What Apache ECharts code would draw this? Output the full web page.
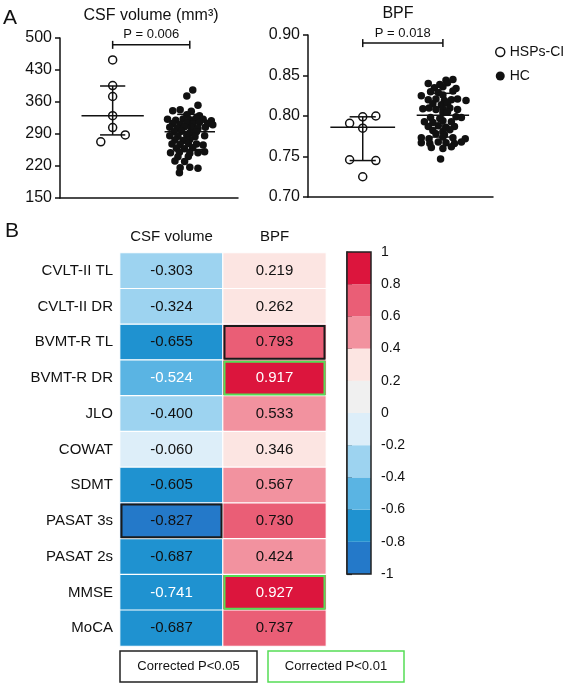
<!DOCTYPE html>
<html>
<head>
<meta charset="utf-8">
<script src="https://cdn.jsdelivr.net/npm/echarts@6/dist/echarts.min.js"></script>
<style>
html, body { margin: 0; padding: 0; background: #fff; }
#main { width: 567px; height: 688px; }
</style>
</head>
<body>
<div id="main"></div>
<script>
// ---------- panel A : group scatter ----------
var groupNames = ['HSPs-CI', 'HC'];
var groupPos = [0.71, 1.75];

var csfHsp = [452, 396, 372, 330, 304, 273, 288];
var csfHspJitter = [0, 0, 0, 0, 0, -0.16, 0.17];
var csfHc = [386, 373, 353, 341, 343, 340, 332, 330, 322, 320, 323, 321, 324, 322, 319,
	313, 311, 314, 312, 315, 313, 310, 305, 303, 306, 304, 302, 305, 295, 296, 293, 295,
	286, 285, 287, 284, 286, 277, 276, 278, 268, 267, 269, 268, 266, 259, 258, 260,
	249, 250, 248, 249, 251, 240, 241, 231, 230, 216, 217, 215, 205];
var csfHcJitter = [0.04, -0.04, 0.11, -0.23, -0.13, 0.02, -0.04, 0.13, -0.3, -0.19, -0.09, 0, 0.08, 0.18, 0.29,
	-0.23, -0.13, -0.04, 0.04, 0.13, 0.24, 0.31, -0.27, -0.17, -0.07, 0.02, 0.11, 0.21, -0.21, -0.11, 0, 0.09,
	-0.27, -0.16, -0.04, 0.07, 0.2, -0.2, -0.09, 0, -0.24, -0.13, -0.02, 0.09, 0.18, -0.18, -0.07, 0.04,
	-0.26, -0.14, 0, 0.11, 0.2, -0.16, -0.02, -0.2, -0.07, -0.13, 0, 0.11, -0.14];

var bpfHsp = [0.799, 0.800, 0.791, 0.785, 0.746, 0.745, 0.725];
var bpfHspJitter = [0, 0.17, -0.17, 0, -0.17, 0.17, 0];
var bpfHc = [0.844, 0.845, 0.840, 0.839, 0.841, 0.835, 0.836, 0.834, 0.830, 0.829, 0.831, 0.825, 0.826,
	0.820, 0.821, 0.819, 0.820, 0.821, 0.819, 0.815, 0.814, 0.816, 0.809, 0.810, 0.808, 0.809, 0.810, 0.808,
	0.804, 0.805, 0.798, 0.797, 0.799, 0.798, 0.793, 0.792, 0.794, 0.793, 0.787, 0.788, 0.786, 0.787,
	0.782, 0.781, 0.783, 0.778, 0.777, 0.773, 0.772, 0.774, 0.773, 0.772, 0.767, 0.766, 0.768, 0.767, 0.766, 0.768,
	0.761, 0.760, 0.762, 0.747];
var bpfHcJitter = [0.04, 0.13, -0.19, -0.04, 0.06, -0.11, 0, 0.17, -0.16, -0.06, 0.13, -0.28, 0,
	-0.19, -0.09, 0.02, 0.11, 0.19, 0.3, -0.13, -0.02, 0.06, -0.26, -0.18, -0.09, 0, 0.09, 0.19,
	0, 0.06, -0.16, -0.04, 0.17, 0.24, -0.24, -0.13, 0, 0.11, -0.19, -0.06, 0.04, 0.15,
	-0.13, 0, 0.09, -0.09, 0.02, -0.28, -0.18, 0, 0.13, 0.29, -0.28, -0.17, -0.06, 0.04, 0.15, 0.24,
	-0.15, 0, 0.11, -0.03];

// mean and error bars per group [HSPs-CI, HC]
var csfMean = [330, 295];
var csfLow = [288, 256];
var csfHigh = [395, 333];
var bpfMean = [0.786, 0.801];
var bpfLow = [0.745, 0.774];
var bpfHigh = [0.799, 0.828];

var pLabels = ['P = 0.006', 'P = 0.018'];
var csfBracketY = 485;
var bpfBracketY = 0.890;

// axis ranges (tick labels)
var csfAxis = { min: 150, max: 500, step: 70 };
var bpfAxis = { min: 0.70, max: 0.90, step: 0.05 };

// ---------- panel B : correlation heatmap ----------
var tests = ['CVLT-II TL', 'CVLT-II DR', 'BVMT-R TL', 'BVMT-R DR', 'JLO', 'COWAT', 'SDMT',
	'PASAT 3s', 'PASAT 2s', 'MMSE', 'MoCA'];
var measures = ['CSF volume', 'BPF'];
var csfCorr = [-0.303, -0.324, -0.655, -0.524, -0.400, -0.060, -0.605, -0.827, -0.687, -0.741, -0.687];
var bpfCorr = [0.219, 0.262, 0.793, 0.917, 0.533, 0.346, 0.567, 0.730, 0.424, 0.927, 0.737];
var whiteLabelRows = ['BVMT-R DR', 'MMSE'];
// [column, row]
var sigP05 = [[1, 2], [0, 7]];
var sigP01 = [[1, 3], [1, 9]];

var scaleBounds = [-1, -0.8, -0.6, -0.4, -0.2, 0, 0.2, 0.4, 0.6, 0.8, 1];
var scaleColors = ['#2479c9', '#1f92d0', '#5ab4e3', '#9dd3f0', '#ddeef9',
	'#f0f0f0', '#fce5e2', '#f2929f', '#ea5e76', '#dc153d'];

var FONT = 'Liberation Sans, Arial, sans-serif';
var INK = '#111';

function scatterData(vals, jit, g, base) {
	return vals.map(function (v, i) { return [groupPos[g] + jit[i], v - base]; });
}

function statData(mean, lo, hi, base) {
	return [0, 1].map(function (g) {
		return [groupPos[g], mean[g] - base, lo[g] - base, hi[g] - base, g === 0 ? 0.42 : 0.34];
	});
}

function meanSdItem(params, api) {
	var x = api.value(0), m = api.value(1), lo = api.value(2), hi = api.value(3), hw = api.value(4);
	var cap = 0.17;
	function seg(x1, y1, x2, y2) {
		var a = api.coord([x1, y1]), b = api.coord([x2, y2]);
		return { type: 'line', shape: { x1: a[0], y1: a[1], x2: b[0], y2: b[1] },
			style: { stroke: INK, lineWidth: 1.5 } };
	}
	return { type: 'group', children: [
		seg(x - hw, m, x + hw, m), seg(x, lo, x, hi),
		seg(x - cap, lo, x + cap, lo), seg(x - cap, hi, x + cap, hi)
	] };
}

function bracketItem(label) {
	return function (params, api) {
		var a = api.coord([api.value(0), api.value(2)]);
		var b = api.coord([api.value(1), api.value(2)]);
		var st = { stroke: INK, lineWidth: 1.5 };
		return { type: 'group', children: [
			{ type: 'line', shape: { x1: a[0], y1: a[1], x2: b[0], y2: b[1] }, style: st },
			{ type: 'line', shape: { x1: a[0], y1: a[1] - 4, x2: a[0], y2: a[1] + 4 }, style: st },
			{ type: 'line', shape: { x1: b[0], y1: b[1] - 4, x2: b[0], y2: b[1] + 4 }, style: st },
			{ type: 'text', x: (a[0] + b[0]) / 2, y: a[1] - 10,
				style: { text: label, fontSize: 13, fontFamily: FONT, fill: INK, align: 'center', verticalAlign: 'middle' } }
		] };
	};
}

function valueAxis(grid, ax, fmt) {
	return {
		type: 'value', gridIndex: grid, min: 0, max: +(ax.max - ax.min).toFixed(4), interval: ax.step,
		axisLine: { show: true, lineStyle: { color: INK, width: 1.5 } },
		axisTick: { show: true, length: 5, lineStyle: { color: INK, width: 1.5 } },
		axisLabel: { fontSize: 16, color: INK, margin: 8, formatter: fmt },
		splitLine: { show: false }
	};
}

function groupAxis(grid) {
	return {
		type: 'value', gridIndex: grid, min: 0, max: 2.4,
		axisLine: { show: true, onZero: false, lineStyle: { color: INK, width: 1.5 } },
		axisTick: { show: false }, axisLabel: { show: false }, splitLine: { show: false }
	};
}

var openDot = { color: '#fff', borderColor: INK, borderWidth: 1.5, opacity: 1 };
var fullDot = { color: INK, opacity: 1 };

var heatData = [];
tests.forEach(function (t, r) {
	var white = whiteLabelRows.indexOf(t) >= 0;
	[csfCorr[r], bpfCorr[r]].forEach(function (v, c) {
		var item = { value: [c, r, v] };
		if (white) item.label = { color: '#fff' };
		heatData.push(item);
	});
});

var boxData = sigP05.map(function (d) { return [d[0], d[1], 0]; })
	.concat(sigP01.map(function (d) { return [d[0], d[1], 1]; }));

var pieces = scaleColors.map(function (c, i) {
	var p = { gte: scaleBounds[i], color: c };
	if (i === scaleColors.length - 1) p.lte = scaleBounds[i + 1]; else p.lt = scaleBounds[i + 1];
	return p;
});

var cbData = scaleColors.map(function (c, i) { return [0, scaleBounds[i], scaleBounds[i + 1], i]; });

var myChart = echarts.init(document.getElementById('main'));

var option = {
	animation: false,
	textStyle: { fontFamily: FONT },
	grid: [
		{ left: 60, top: 38, width: 178, height: 160, outerBoundsMode: 'none' },
		{ left: 308, top: 35, width: 185, height: 162, outerBoundsMode: 'none' },
		{ left: 120, top: 253, width: 206, height: 393, outerBoundsMode: 'none' },
		{ left: 347, top: 252, width: 24, height: 322, outerBoundsMode: 'none' }
	],
	xAxis: [
		groupAxis(0),
		groupAxis(1),
		{
			type: 'category', gridIndex: 2, data: measures, position: 'top',
			axisLine: { show: false }, axisTick: { show: false },
			axisLabel: { fontSize: 15, color: INK, margin: 9, interval: 0, hideOverlap: false }
		},
		{ type: 'value', gridIndex: 3, min: 0, max: 1, show: false }
	],
	yAxis: [
		valueAxis(0, csfAxis, function (v) { return String(Math.round(v + csfAxis.min)); }),
		valueAxis(1, bpfAxis, function (v) { return (v + bpfAxis.min).toFixed(2); }),
		{
			type: 'category', gridIndex: 2, data: tests, inverse: true,
			axisLine: { show: false }, axisTick: { show: false },
			axisLabel: { fontSize: 15, color: INK, margin: 7, interval: 0 }
		},
		{
			type: 'value', gridIndex: 3, min: -1, max: 1, interval: 0.2, position: 'right',
			axisLine: { show: true, lineStyle: { color: '#222', width: 1.5 } },
			axisTick: { show: true, length: 5, lineStyle: { color: '#222', width: 1.2 } },
			axisLabel: { fontSize: 14, color: INK, margin: 10,
				formatter: function (v) { return String(Math.round(v * 10) / 10); } },
			splitLine: { show: false }
		}
	],
	legend: {
		orient: 'vertical', left: 490, top: 40, itemGap: 10, itemWidth: 9, itemHeight: 9,
		icon: 'circle', textStyle: { fontSize: 14, color: INK },
		data: [
			{ name: groupNames[0], itemStyle: openDot },
			{ name: groupNames[1], itemStyle: fullDot }
		]
	},
	visualMap: {
		type: 'piecewise', show: false, seriesIndex: 8, dimension: 2, pieces: pieces
	},
	series: [
		{ name: groupNames[0], type: 'scatter', xAxisIndex: 0, yAxisIndex: 0, symbolSize: 8,
			itemStyle: openDot, data: scatterData(csfHsp, csfHspJitter, 0, csfAxis.min), z: 3 },
		{ name: groupNames[1], type: 'scatter', xAxisIndex: 0, yAxisIndex: 0, symbolSize: 7.5,
			itemStyle: fullDot, data: scatterData(csfHc, csfHcJitter, 1, csfAxis.min), z: 2 },
		{ type: 'custom', xAxisIndex: 0, yAxisIndex: 0, renderItem: meanSdItem, z: 4,
			data: statData(csfMean, csfLow, csfHigh, csfAxis.min) },
		{ type: 'custom', xAxisIndex: 0, yAxisIndex: 0, renderItem: bracketItem(pLabels[0]), z: 4,
			data: [[groupPos[0], groupPos[1], csfBracketY - csfAxis.min]] },
		{ name: groupNames[0], type: 'scatter', xAxisIndex: 1, yAxisIndex: 1, symbolSize: 8,
			itemStyle: openDot, data: scatterData(bpfHsp, bpfHspJitter, 0, bpfAxis.min), z: 3 },
		{ name: groupNames[1], type: 'scatter', xAxisIndex: 1, yAxisIndex: 1, symbolSize: 7.5,
			itemStyle: fullDot, data: scatterData(bpfHc, bpfHcJitter, 1, bpfAxis.min), z: 2 },
		{ type: 'custom', xAxisIndex: 1, yAxisIndex: 1, renderItem: meanSdItem, z: 4,
			data: statData(bpfMean, bpfLow, bpfHigh, bpfAxis.min) },
		{ type: 'custom', xAxisIndex: 1, yAxisIndex: 1, renderItem: bracketItem(pLabels[1]), z: 4,
			data: [[groupPos[0], groupPos[1], bpfBracketY - bpfAxis.min]] },
		{
			type: 'heatmap', xAxisIndex: 2, yAxisIndex: 2, data: heatData,
			itemStyle: { borderColor: '#fff', borderWidth: 1.2 },
			label: { show: true, fontSize: 15, color: INK,
				formatter: function (p) { return p.value[2].toFixed(3); } },
			emphasis: { disabled: true }
		},
		{
			type: 'custom', xAxisIndex: 2, yAxisIndex: 2, z: 5, data: boxData,
			renderItem: function (params, api) {
				var c = api.coord([api.value(0), api.value(1)]);
				var s = api.size([1, 1]);
				return { type: 'rect',
					shape: { x: c[0] - s[0] / 2 + 1.5, y: c[1] - s[1] / 2 + 1.5, width: s[0] - 3, height: s[1] - 3 },
					style: { fill: null, stroke: api.value(2) ? '#55dd55' : '#1a1a1a', lineWidth: 2 } };
			}
		},
		{
			type: 'custom', xAxisIndex: 3, yAxisIndex: 3, data: cbData,
			renderItem: function (params, api) {
				var a = api.coord([0, api.value(2)]), b = api.coord([1, api.value(1)]);
				return { type: 'rect', shape: { x: a[0], y: a[1], width: b[0] - a[0], height: b[1] - a[1] },
					style: { fill: scaleColors[api.value(3)] } };
			}
		},
		{
			type: 'custom', xAxisIndex: 3, yAxisIndex: 3, z: 6, data: [[0, -1, 1]],
			renderItem: function (params, api) {
				var a = api.coord([0, api.value(2)]), b = api.coord([1, api.value(1)]);
				return { type: 'rect', shape: { x: a[0], y: a[1], width: b[0] - a[0], height: b[1] - a[1] },
					style: { fill: null, stroke: '#222', lineWidth: 1.5 } };
			}
		}
	],
	graphic: [
		{ type: 'text', x: 3, y: 8, style: { text: 'A', fontSize: 21, fontFamily: FONT, fill: INK } },
		{ type: 'text', x: 151, y: 16, style: { text: 'CSF volume (mm³)', fontSize: 16, fontFamily: FONT, fill: INK, align: 'center', verticalAlign: 'middle' } },
		{ type: 'text', x: 398, y: 14, style: { text: 'BPF', fontSize: 16, fontFamily: FONT, fill: INK, align: 'center', verticalAlign: 'middle' } },
		{ type: 'text', x: 5, y: 221, style: { text: 'B', fontSize: 21, fontFamily: FONT, fill: INK } },
		{ type: 'rect', shape: { x: 120, y: 651, width: 137, height: 31 }, style: { fill: '#fff', stroke: '#222', lineWidth: 1.5 } },
		{ type: 'text', x: 188.5, y: 666.5, style: { text: 'Corrected P<0.05', fontSize: 13, fontFamily: FONT, fill: INK, align: 'center', verticalAlign: 'middle' } },
		{ type: 'rect', shape: { x: 268, y: 651, width: 136, height: 31 }, style: { fill: '#fff', stroke: '#55dd55', lineWidth: 1.5 } },
		{ type: 'text', x: 336, y: 666.5, style: { text: 'Corrected P<0.01', fontSize: 13, fontFamily: FONT, fill: INK, align: 'center', verticalAlign: 'middle' } }
	]
};

myChart.setOption(option);
</script>
</body>
</html>
